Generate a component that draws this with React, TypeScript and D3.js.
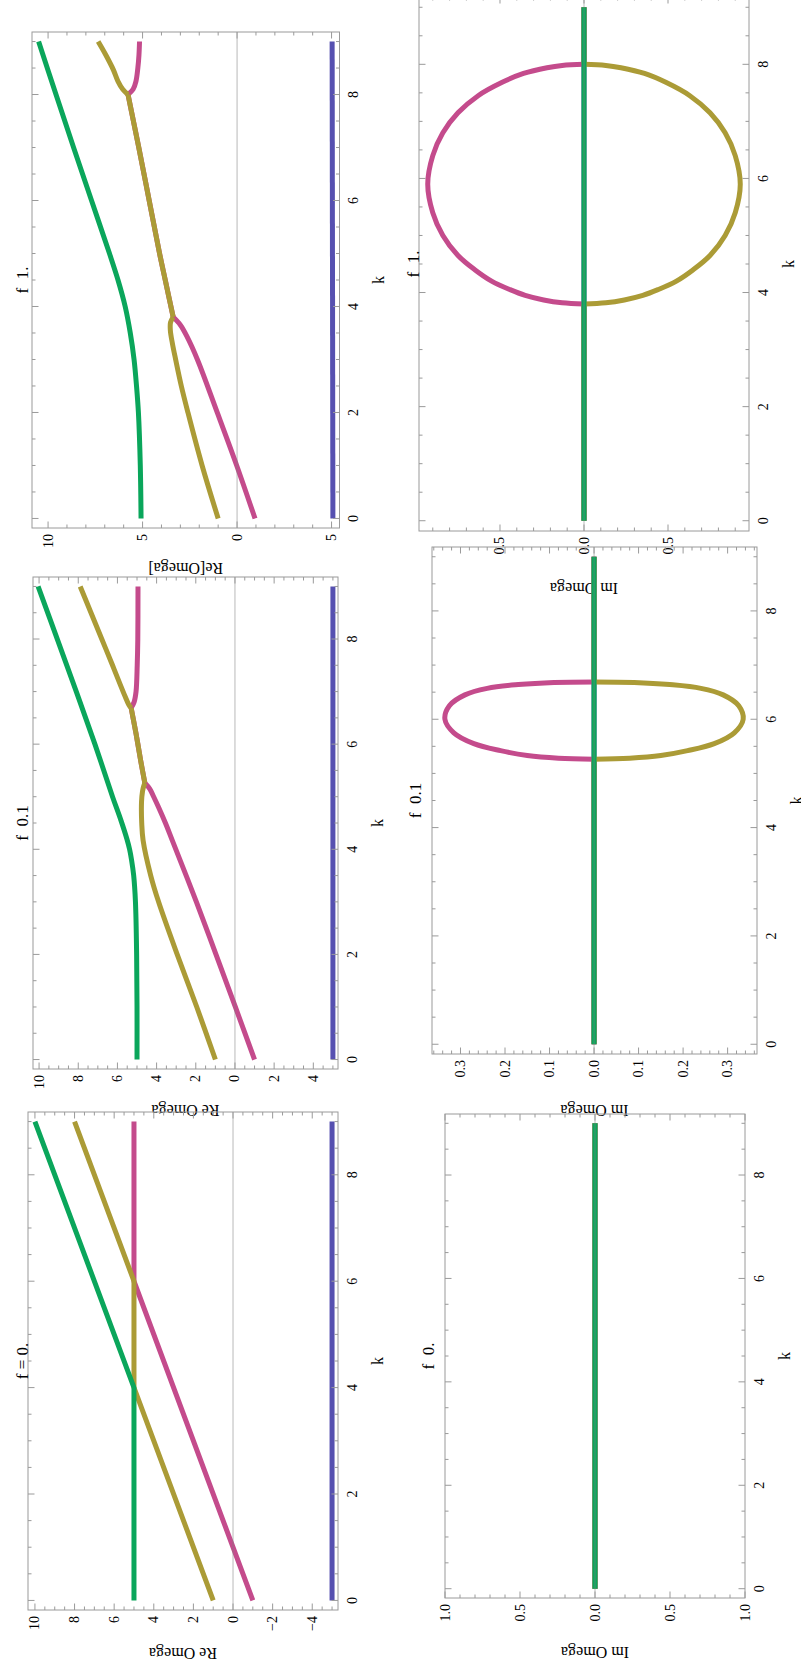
import * as d3 from "d3";

// each point is [k, value]
type Pt = [number, number];

const BLUE = "#5650b0";
const MAGENTA = "#c44b8c";
const OLIVE = "#ab9b36";
const GREEN = "#0aa65b";

// k axis (shared)
const kTickValues = [0, 2, 4, 6, 8];
const kTickLabels = ["0", "2", "4", "6", "8"];

// ---- Re Omega, f = 1. ----
const reF1Blue: Pt[] = [[0, -5.07], [9, -5.03]];
const reF1MagentaLow: Pt[] = [[0, -0.95], [1, 0.02], [2, 1.05], [3, 2.1], [3.44, 2.66], [3.65, 3.0], [3.8, 3.38]];
const reF1OliveLow: Pt[] = [[0, 1.0], [1, 1.85], [2, 2.6], [2.5, 2.95], [3, 3.25], [3.3, 3.42], [3.55, 3.53], [3.7, 3.52], [3.8, 3.38]];
const reF1Merged: Pt[] = [[3.8, 3.38], [4.5, 3.8], [5, 4.1], [6, 4.65], [7, 5.2], [8, 5.77]];
const reF1MagentaHigh: Pt[] = [[8, 5.77], [8.1, 5.5], [8.25, 5.35], [8.5, 5.25], [8.75, 5.19], [9, 5.16]];
const reF1OliveHigh: Pt[] = [[8, 5.77], [8.1, 6.05], [8.25, 6.3], [8.47, 6.55], [8.75, 6.95], [9, 7.35]];
const reF1Green: Pt[] = [[0, 5.08], [1, 5.12], [2, 5.22], [2.5, 5.32], [3, 5.45], [3.5, 5.65], [4, 5.92], [4.5, 6.3], [5, 6.75], [6, 7.7], [7, 8.65], [8, 9.58], [9, 10.5]];
const reF1TickValues = [-5, 0, 5, 10];
const reF1TickLabels = ["5", "0", "5", "10"];

// ---- Re Omega, f = 0.1 ----
const reF01Blue: Pt[] = [[0, -5], [9, -5]];
const reF01MagentaLow: Pt[] = [[0, -1], [1, -0.02], [2, 0.97], [3, 1.97], [4.17, 3.2], [4.5, 3.55], [4.8, 3.9], [5.0, 4.15], [5.15, 4.35], [5.26, 4.6]];
const reF01OliveLow: Pt[] = [[0, 1], [1, 1.95], [2, 2.95], [3, 3.9], [3.5, 4.3], [4.17, 4.69], [4.5, 4.76], [4.9, 4.77], [5.1, 4.72], [5.2, 4.66], [5.26, 4.6]];
const reF01Merged: Pt[] = [[5.26, 4.6], [5.7, 4.82], [6.2, 5.05], [6.69, 5.3]];
const reF01MagentaHigh: Pt[] = [[6.69, 5.3], [6.8, 5.15], [7, 5.05], [7.5, 4.99], [8, 4.96], [9, 4.95]];
const reF01OliveHigh: Pt[] = [[6.69, 5.3], [6.75, 5.42], [6.9, 5.6], [7.1, 5.82], [7.5, 6.25], [8, 6.8], [8.5, 7.35], [9, 7.9]];
const reF01Green: Pt[] = [[0, 5], [1, 5], [2, 5.02], [3, 5.08], [3.5, 5.17], [3.8, 5.28], [4, 5.38], [4.2, 5.52], [4.55, 5.82], [5, 6.25], [6, 7.15], [7, 8.1], [8, 9.07], [9, 10.05]];
const reF01TickValues = [-4, -2, 0, 2, 4, 6, 8, 10];
const reF01TickLabels = ["4", "2", "0", "2", "4", "6", "8", "10"];

// ---- Re Omega, f = 0. ----
const reF0Blue: Pt[] = [[0, -5], [9, -5]];
const reF0Magenta: Pt[] = [[0, -1], [6, 5], [9, 5]];
const reF0Olive: Pt[] = [[0, 1], [4, 5], [6, 5], [9, 8]];
const reF0Green: Pt[] = [[0, 5], [4, 5], [9, 10]];
const reF0TickValues = [-4, -2, 0, 2, 4, 6, 8, 10];
const reF0TickLabels = ["\u22124", "\u22122", "0", "2", "4", "6", "8", "10"];

// ---- Im Omega, f = 1. ----
const imF1Zero: Pt[] = [[0, 0], [9, 0]];
const imF1Low: Pt[] = [[0, 0], [3.8, 0]];
const imF1High: Pt[] = [[8, 0], [9, 0]];
const imF1Magenta: Pt[] = [[3.8, 0], [3.82, 0.13], [3.87, 0.24], [3.95, 0.35], [4.05, 0.44], [4.2, 0.55], [4.4, 0.65], [4.65, 0.75], [5.0, 0.84], [5.4, 0.9], [5.9, 0.93], [6.4, 0.9], [6.8, 0.84], [7.15, 0.75], [7.45, 0.63], [7.68, 0.49], [7.84, 0.36], [7.94, 0.22], [7.98, 0.13], [8.0, 0]];
const imF1Olive: Pt[] = [[3.8, 0], [3.82, -0.13], [3.87, -0.24], [3.95, -0.35], [4.05, -0.44], [4.2, -0.55], [4.4, -0.65], [4.65, -0.75], [5.0, -0.84], [5.4, -0.9], [5.9, -0.93], [6.4, -0.9], [6.8, -0.84], [7.15, -0.75], [7.45, -0.63], [7.68, -0.49], [7.84, -0.36], [7.94, -0.22], [7.98, -0.13], [8.0, 0]];
const imF1TickValues = [-0.5, 0, 0.5];
const imF1TickLabels = ["0.5", "0.0", "0.5"];

// ---- Im Omega, f = 0.1 ----
const imF01Zero: Pt[] = [[0, 0], [9, 0]];
const imF01Low: Pt[] = [[0, 0], [5.26, 0]];
const imF01High: Pt[] = [[6.69, 0], [9, 0]];
const imF01Magenta: Pt[] = [[5.26, 0], [5.28, 0.08], [5.33, 0.15], [5.42, 0.21], [5.55, 0.27], [5.75, 0.315], [6.0, 0.335], [6.25, 0.325], [6.45, 0.29], [6.57, 0.24], [6.64, 0.17], [6.68, 0.09], [6.69, 0]];
const imF01Olive: Pt[] = [[5.26, 0], [5.28, -0.08], [5.33, -0.15], [5.42, -0.21], [5.55, -0.27], [5.75, -0.315], [6.0, -0.335], [6.25, -0.325], [6.45, -0.29], [6.57, -0.24], [6.64, -0.17], [6.68, -0.09], [6.69, 0]];
const imF01TickValues = [-0.3, -0.2, -0.1, 0, 0.1, 0.2, 0.3];
const imF01TickLabels = ["0.3", "0.2", "0.1", "0.0", "0.1", "0.2", "0.3"];

// ---- Im Omega, f = 0. ----
const imF0Zero: Pt[] = [[0, 0], [9, 0]];
const imF0TickValues = [-1, -0.5, 0, 0.5, 1];
const imF0TickLabels = ["1.0", "0.5", "0.0", "0.5", "1.0"];

const FONT = "'Liberation Serif', 'Times New Roman', serif";

const panels = [
  {
    title: "f\u20021.", label: "Re[Omega]", left: 32, right: 339.5, top: 32, bottom: 528,
    vDomain: [10.85, -5.42], titleX: 22, labelY: 568, curve: d3.curveCatmullRom,
    tickValues: reF1TickValues, tickLabels: reF1TickLabels, minor: 1,
    series: [
      [reF1Blue, BLUE], [reF1MagentaLow, MAGENTA], [reF1Merged, MAGENTA], [reF1MagentaHigh, MAGENTA],
      [reF1OliveLow, OLIVE], [reF1Merged, OLIVE], [reF1OliveHigh, OLIVE], [reF1Green, GREEN],
    ],
  },
  {
    title: "f\u20020.1", label: "Re Omega", left: 33, right: 338, top: 577, bottom: 1069,
    vDomain: [10.31, -5.26], titleX: 22, labelY: 1110, curve: d3.curveCatmullRom,
    tickValues: reF01TickValues, tickLabels: reF01TickLabels, minor: 0.5,
    series: [
      [reF01Blue, BLUE], [reF01MagentaLow, MAGENTA], [reF01Merged, MAGENTA], [reF01MagentaHigh, MAGENTA],
      [reF01OliveLow, OLIVE], [reF01Merged, OLIVE], [reF01OliveHigh, OLIVE], [reF01Green, GREEN],
    ],
  },
  {
    title: "f = 0.", label: "Re Omega", left: 28, right: 338, top: 1112, bottom: 1610,
    vDomain: [10.35, -5.3], titleX: 22, labelY: 1653, curve: d3.curveLinear,
    tickValues: reF0TickValues, tickLabels: reF0TickLabels, minor: 0.5,
    series: [[reF0Blue, BLUE], [reF0Magenta, MAGENTA], [reF0Olive, OLIVE], [reF0Green, GREEN]],
  },
  {
    title: "f\u20021.", label: "Im Omega", left: 419, right: 749, top: -3, bottom: 531,
    vDomain: [0.982, -0.982], titleX: 413, labelY: 588, curve: d3.curveCatmullRom,
    tickValues: imF1TickValues, tickLabels: imF1TickLabels, minor: 0.1,
    series: [
      [imF1Zero, BLUE], [imF1Low, MAGENTA], [imF1Magenta, MAGENTA], [imF1High, MAGENTA],
      [imF1Low, OLIVE], [imF1Olive, OLIVE], [imF1High, OLIVE], [imF1Zero, GREEN],
    ],
  },
  {
    title: "f\u20020.1", label: "Im Omega", left: 432, right: 757, top: 547, bottom: 1054,
    vDomain: [0.364, -0.366], titleX: 415, labelY: 1110, curve: d3.curveCatmullRom,
    tickValues: imF01TickValues, tickLabels: imF01TickLabels, minor: 0.02,
    series: [
      [imF01Zero, BLUE], [imF01Low, MAGENTA], [imF01Magenta, MAGENTA], [imF01High, MAGENTA],
      [imF01Low, OLIVE], [imF01Olive, OLIVE], [imF01High, OLIVE], [imF01Zero, GREEN],
    ],
  },
  {
    title: "f\u20020.", label: "Im Omega", left: 445, right: 745, top: 1114, bottom: 1598,
    vDomain: [1, -1], titleX: 428, labelY: 1652, curve: d3.curveLinear,
    tickValues: imF0TickValues, tickLabels: imF0TickLabels, minor: 0.1,
    series: [[imF0Zero, BLUE], [imF0Zero, MAGENTA], [imF0Zero, OLIVE], [imF0Zero, GREEN]],
  },
];

function minorTicks(domain: number[], step: number, majors: number[]) {
  const lo = Math.min(domain[0], domain[1]);
  const hi = Math.max(domain[0], domain[1]);
  const out: number[] = [];
  for (let n = Math.ceil(lo / step - 1e-9); n * step <= hi + 1e-9; n++) {
    const v = n * step;
    if (!majors.some((m) => Math.abs(m - v) < step / 10)) out.push(v);
  }
  return out;
}

function Panel({ p }: { p: any }) {
  const x = d3.scaleLinear().domain(p.vDomain).range([p.left, p.right]);
  const y = d3.scaleLinear().domain([-0.18, 9.18]).range([p.bottom, p.top]);
  const line = d3
    .line<Pt>()
    .x((d) => x(d[1]))
    .y((d) => y(d[0]))
    .curve(p.curve);

  const vMinor = minorTicks(p.vDomain, p.minor, p.tickValues);
  const kMinor = minorTicks([-0.18, 9.18], 0.5, kTickValues);
  const cy = (p.top + p.bottom) / 2;
  const cx = (p.left + p.right) / 2;
  const tick = "#9a9a9a";

  return (
    <g>
      {p.series.map(([pts, color]: [Pt[], string], i: number) => (
        <path key={i} d={line(pts) || ""} fill="none" stroke={color} strokeWidth={5} />
      ))}
      <line x1={x(0)} x2={x(0)} y1={p.top} y2={p.bottom} stroke="#808080" strokeOpacity={0.55} strokeWidth={1} />
      <rect x={p.left} y={p.top} width={p.right - p.left} height={p.bottom - p.top} fill="none" stroke={tick} strokeWidth={1} />

      {p.tickValues.map((v: number) => (
        <g key={"vM" + v}>
          <line x1={x(v)} x2={x(v)} y1={p.bottom} y2={p.bottom - 6.5} stroke={tick} />
          <line x1={x(v)} x2={x(v)} y1={p.top} y2={p.top + 6.5} stroke={tick} />
        </g>
      ))}
      {vMinor.map((v: number) => (
        <g key={"vm" + v}>
          <line x1={x(v)} x2={x(v)} y1={p.bottom} y2={p.bottom - 3.5} stroke={tick} />
          <line x1={x(v)} x2={x(v)} y1={p.top} y2={p.top + 3.5} stroke={tick} />
        </g>
      ))}
      {kTickValues.map((k) => (
        <g key={"kM" + k}>
          <line x1={p.right} x2={p.right - 6.5} y1={y(k)} y2={y(k)} stroke={tick} />
          <line x1={p.left} x2={p.left + 6.5} y1={y(k)} y2={y(k)} stroke={tick} />
        </g>
      ))}
      {kMinor.map((k) => (
        <g key={"km" + k}>
          <line x1={p.right} x2={p.right - 3.5} y1={y(k)} y2={y(k)} stroke={tick} />
          <line x1={p.left} x2={p.left + 3.5} y1={y(k)} y2={y(k)} stroke={tick} />
        </g>
      ))}

      <g fontFamily={FONT} fill="#000">
        {p.tickValues.map((v: number, i: number) => (
          <text key={"vl" + v} transform={`translate(${x(v)},${p.bottom + 6}) rotate(-90)`}
            textAnchor="end" dominantBaseline="central" fontSize={14}>
            {p.tickLabels[i]}
          </text>
        ))}
        {kTickValues.map((k, i) => (
          <text key={"kl" + k} transform={`translate(${p.right + 14},${y(k)}) rotate(-90)`}
            textAnchor="middle" dominantBaseline="central" fontSize={14}>
            {kTickLabels[i]}
          </text>
        ))}
        <text transform={`translate(${p.right + 39},${cy}) rotate(-90)`} textAnchor="middle"
          dominantBaseline="central" fontSize={16}>k</text>
        <text transform={`translate(${cx},${p.labelY}) rotate(180)`} textAnchor="middle"
          dominantBaseline="central" fontSize={16}>{p.label}</text>
        <text transform={`translate(${p.titleX},${cy}) rotate(-90)`} textAnchor="middle"
          dominantBaseline="central" fontSize={17}>{p.title}</text>
      </g>
    </g>
  );
}

export default function App() {
  return (
    <svg width={801} height={1669} style={{ position: "absolute", left: 0, top: 0, background: "#fff" }}>
      {panels.map((p, i) => (
        <Panel key={i} p={p} />
      ))}
    </svg>
  );
}
